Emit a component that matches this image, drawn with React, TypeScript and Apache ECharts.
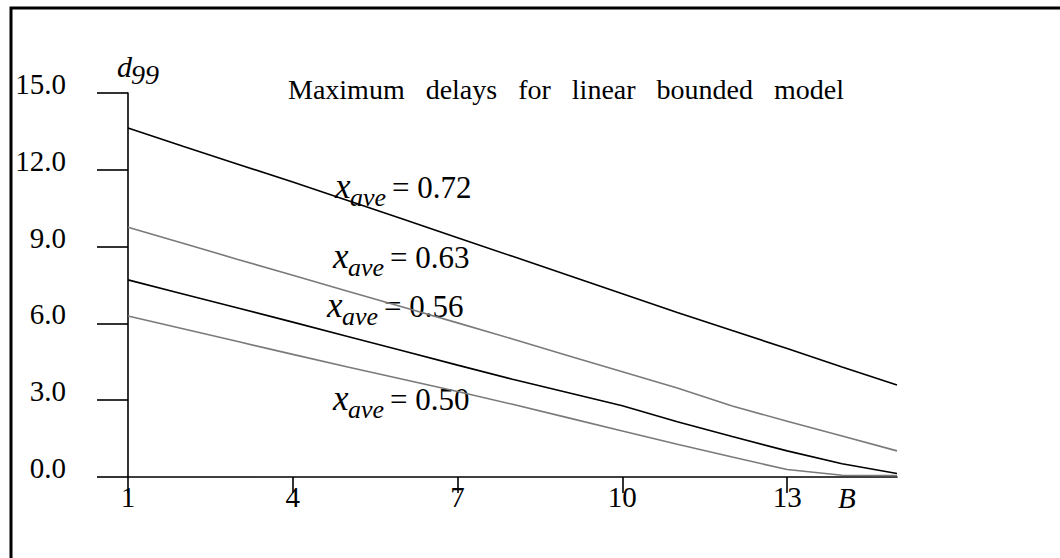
import React, { useEffect, useRef } from "react";
import * as echarts from "echarts";

const bValues = [1, 2, 3, 4, 5, 6, 7, 8, 9, 10, 11, 12, 13, 14, 15];
const d72 = [13.63, 12.92, 12.22, 11.52, 10.8, 10.08, 9.35, 8.62, 7.89, 7.16, 6.43, 5.72, 5.02, 4.3, 3.59];
const d63 = [9.76, 9.13, 8.5, 7.88, 7.26, 6.64, 6.02, 5.39, 4.75, 4.11, 3.48, 2.77, 2.18, 1.6, 1.02];
const d56 = [7.7, 7.15, 6.6, 6.05, 5.49, 4.93, 4.37, 3.82, 3.3, 2.78, 2.16, 1.58, 1.02, 0.52, 0.14];
const d50 = [6.29, 5.79, 5.29, 4.79, 4.3, 3.82, 3.34, 2.84, 2.32, 1.8, 1.28, 0.78, 0.29, 0.07, 0.06];
const xTicks = [1, 4, 7, 10, 13];
const seriesNames = ["0.72", "0.63", "0.56", "0.50"];
const titleText = "Maximum delays for linear bounded model";

const SERIF = "'Liberation Serif', 'Times New Roman', serif";

function pairs(ys: number[]) {
  return bValues.map((b, i) => [b, ys[i]]);
}

function annotation(value: string, x: number, baseline: number) {
  return [
    {
      type: "text",
      x: x,
      y: baseline - 11.8,
      style: { text: "x", font: `italic 35px ${SERIF}`, fill: "#000", verticalAlign: "middle", align: "left" },
    },
    {
      type: "text",
      x: x + 15,
      y: baseline + 8.5 - 8.8,
      style: { text: "ave", font: `italic 26px ${SERIF}`, fill: "#000", verticalAlign: "middle", align: "left" },
    },
    {
      type: "text",
      x: x + 57,
      y: baseline - 10.5,
      style: { text: "= " + value, font: `31px ${SERIF}`, fill: "#000", verticalAlign: "middle", align: "left" },
    },
  ];
}

export default function App() {
  const ref = useRef<HTMLDivElement>(null);
  useEffect(() => {
    if (!ref.current) return;
    const chart = echarts.init(ref.current, null, { renderer: "svg" });
    const lineColors = ["#000000", "#7a7a7a", "#000000", "#7a7a7a"];
    const data = [d72, d63, d56, d50];
    chart.setOption({
      animation: false,
      backgroundColor: "#ffffff",
      grid: { left: 128, right: 163, top: 93, bottom: 81, containLabel: false, outerBoundsMode: "none" },
      xAxis: {
        type: "value",
        min: 1,
        max: 15,
        splitLine: { show: false },
        axisLine: { show: true, onZero: false, lineStyle: { color: "#000", width: 1.6 } },
        axisTick: { show: true, customValues: xTicks, length: 16, lineStyle: { color: "#000", width: 1.6 } },
        axisLabel: {
          customValues: xTicks,
          margin: 20,
          verticalAlign: "middle",
          fontFamily: SERIF,
          fontSize: 29,
          color: "#000",
        },
      },
      yAxis: {
        type: "value",
        min: 0,
        max: 15,
        interval: 3,
        splitLine: { show: false },
        axisLine: { show: true, lineStyle: { color: "#000", width: 1.6 } },
        axisTick: { show: true, length: 31, lineStyle: { color: "#000", width: 1.6 } },
        axisLabel: {
          formatter: (v: number) => v.toFixed(1),
          margin: 62,
          align: "right",
          verticalAlign: "bottom",
          lineHeight: 18,
          fontFamily: SERIF,
          fontSize: 29,
          color: "#000",
        },
      },
      series: data.map((ys, i) => ({
        name: seriesNames[i],
        type: "line",
        data: pairs(ys),
        showSymbol: false,
        symbol: "none",
        lineStyle: { color: lineColors[i], width: 1.6 },
        z: 3,
      })),
      graphic: [
        {
          type: "rect",
          shape: { x: 11, y: 8, width: 2000, height: 2000 },
          style: { fill: "none", stroke: "#000", lineWidth: 3 },
          silent: true,
        },
        {
          type: "text",
          x: 288,
          y: 99 - 9.5,
          style: { text: titleText.split(" ").join("\u2002 "), font: `28px ${SERIF}`, fill: "#000", verticalAlign: "middle", align: "left" },
        },
        {
          type: "text",
          x: 117,
          y: 77 - 10.1,
          style: { text: "d", font: `italic 30px ${SERIF}`, fill: "#000", verticalAlign: "middle", align: "left" },
        },
        {
          type: "text",
          x: 131,
          y: 84 - 9.4,
          style: { text: "99", font: `italic 28px ${SERIF}`, fill: "#000", verticalAlign: "middle", align: "left" },
        },
        {
          type: "text",
          x: 838,
          y: 508 - 9.8,
          style: { text: "B", font: `italic 29px ${SERIF}`, fill: "#000", verticalAlign: "middle", align: "left" },
        },
        ...annotation(seriesNames[0], 335, 198),
        ...annotation(seriesNames[1], 333, 268),
        ...annotation(seriesNames[2], 327, 317),
        ...annotation(seriesNames[3], 333, 410),
      ],
    });
    return () => chart.dispose();
  }, []);
  return (
    <div
      ref={ref}
      style={{ position: "fixed", left: 0, top: 0, width: 1060, height: 558, background: "#fff" }}
    />
  );
}
